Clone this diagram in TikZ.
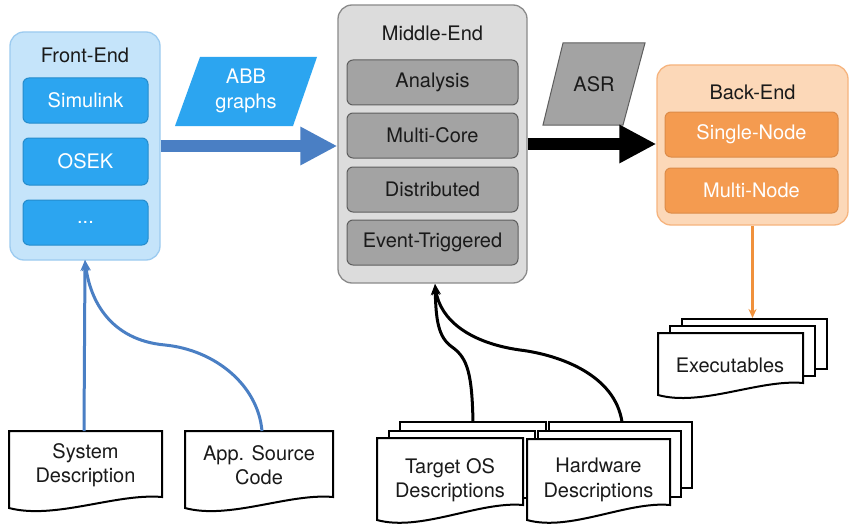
\documentclass[tikz,border=0pt]{standalone}
\usepackage{fontspec}
\setmainfont{TeX Gyre Heros}
\usetikzlibrary{arrows.meta,calc}
\definecolor{feOut}{HTML}{C5E4FA}
\definecolor{feBorder}{HTML}{9CCBF0}
\definecolor{feIn}{HTML}{2CA5F0}
\definecolor{blueArr}{HTML}{4A7FC4}
\definecolor{meOut}{HTML}{DCDCDC}
\definecolor{meBorder}{HTML}{8A8A8A}
\definecolor{meIn}{HTML}{A3A3A3}
\definecolor{meInBorder}{HTML}{5E5E5E}
\definecolor{beOut}{HTML}{FCD8B8}
\definecolor{beBorder}{HTML}{F6B47E}
\definecolor{beIn}{HTML}{F49B50}
\definecolor{orArr}{HTML}{F0913C}
\definecolor{txt}{HTML}{1A1A1A}
\newcommand\docfront[5]{\draw[docline] (#1,#3) -- (#2,#3) -- (#2,#4) .. controls ({#2-0.3*(#2-#1)},{#4-4}) and ({#1+0.3*(#2-#1)},{#5+12}) .. (#1,#5) -- cycle;}
\newcommand\doclayer[6]{\draw[docline] ({#1+#5},{#3-#6}) rectangle ({#2+#5},{#4-#6});}
\begin{document}
\begin{tikzpicture}[x=1pt,y=-1pt,
  font=\fontsize{20}{24.5}\selectfont,
  outerbox/.style={rounded corners=14pt, line width=1.3pt, inner sep=0pt},
  innerbox/.style={rounded corners=6pt, inner sep=0pt, line width=1pt},
  feinner/.style={innerbox, fill=feIn, draw=feIn!85!black, text=white, minimum width=125pt, minimum height=45pt},
  meinner/.style={innerbox, fill=meIn, draw=meInBorder, text=txt, minimum width=171pt, minimum height=45pt},
  beinner/.style={innerbox, fill=beIn, draw=beIn!90!black, text=white, minimum width=173pt, minimum height=45pt},
  title/.style={text=txt, inner sep=0pt},
  docline/.style={draw=black, line width=2pt, fill=white},
  doctext/.style={text=txt, align=center, inner sep=0pt},
  bigarrow/.style={line width=12pt, -{Triangle[length=37pt,width=36pt]}},
  inarrow/.style={line width=3pt, -{Stealth[length=11pt,width=9pt]}}
]
\fill[white] (0,0) rectangle (850,524);
\useasboundingbox (0,0) rectangle (850,524);

% Front-End
\node[outerbox, draw=feBorder, fill=feOut, minimum width=150pt, minimum height=228pt] (fe) at (85,146) {};
\node[title] (fet) at (85,55) {Front-End};
\node[feinner] (sim) at (85.5,100.5) {Simulink};
\node[feinner, minimum height=47pt] (osek) at (85.5,161.5) {OSEK};
\node[feinner] (dots) at (85.5,222.5) {...};

% ABB graphs
\fill[feIn] (175,126) -- (200,57) -- (317,57) -- (293,126) -- cycle;
\node[doctext, text=white] (abb) at (246,91) {ABB\\graphs};

% Middle-End
\node[outerbox, draw=meBorder, fill=meOut, minimum width=189pt, minimum height=278pt] (me) at (432.5,144) {};
\node[title] (met) at (432.5,33) {Middle-End};
\node[meinner] (ana) at (432.5,82.5) {Analysis};
\node[meinner] (mc) at (432.5,135.5) {Multi-Core};
\node[meinner] (dist) at (432.5,189.5) {Distributed};
\node[meinner] (ev) at (432.5,242.5) {Event-Triggered};

% ASR
\draw[fill=meIn, draw=meInBorder, line width=1pt] (543,125) -- (563,43) -- (645,43) -- (623,125) -- cycle;
\node[doctext] (asr) at (594,84) {ASR};

% Back-End
\node[outerbox, draw=beBorder, fill=beOut, minimum width=191pt, minimum height=160pt] (be) at (752.5,145) {};
\node[title] (bet) at (752.5,92) {Back-End};
\node[beinner] (sn) at (751.5,134.5) {Single-Node};
\node[beinner] (mn) at (751.5,190.5) {Multi-Node};

% big arrows
\draw[bigarrow, blueArr] (fe.east) -- (fe.east -| me.west);
\draw[bigarrow, black] (me.east) -- (me.east -| be.west);

% Executables
\doclayer{658}{803}{333}{383}{24}{14}
\doclayer{658}{803}{333}{383}{12}{7}
\docfront{658}{803}{333}{383}{395}
\node[doctext] (exe) at (730,365) {Executables};
\coordinate (exTop) at (752.5,318);
\draw[orArr, line width=2.5pt, -{Stealth[length=9pt,width=8pt]}] (be.south) -- (exTop);

% System Description / App Source
\docfront{9}{162}{431}{497}{508}
\node[doctext] (sd) at (85.5,465) {System\\Description};
\docfront{185}{333}{431}{497}{508}
\node[doctext] (app) at (259,465) {App. Source\\Code};
\coordinate (sdTop) at (84,431);
\coordinate (appTop) at (262,431);
\coordinate (feIn) at (85,260);
\draw[inarrow, blueArr] (sdTop) -- (feIn);
\draw[inarrow, blueArr] (appTop) .. controls (258,385) and (215,350) .. (165,345) .. controls (110,340) and (90,300) .. (feIn);

% Target OS / Hardware
\doclayer{377}{523}{438}{505}{23}{16}
\doclayer{377}{523}{438}{505}{11.5}{7}
\docfront{377}{523}{438}{505}{520}
\node[doctext] (tos) at (450,480) {Target OS\\Descriptions};
\doclayer{527}{670}{439}{505}{22}{17}
\doclayer{527}{670}{439}{505}{11}{8}
\docfront{527}{670}{439}{505}{520}
\node[doctext] (hw) at (598.5,480) {Hardware\\Descriptions};
\coordinate (tosTop) at (473,422);
\coordinate (hwTop) at (622,422);
\coordinate (meIn) at (435,284);
\draw[inarrow, black] (tosTop) .. controls (472,375) and (468,358) .. (452,347) .. controls (438,337) and (436,320) .. (meIn);
\draw[inarrow, black] (hwTop) .. controls (615,375) and (560,355) .. (520,350) .. controls (470,343) and (440,320) .. (meIn);
\end{tikzpicture}
\end{document}
